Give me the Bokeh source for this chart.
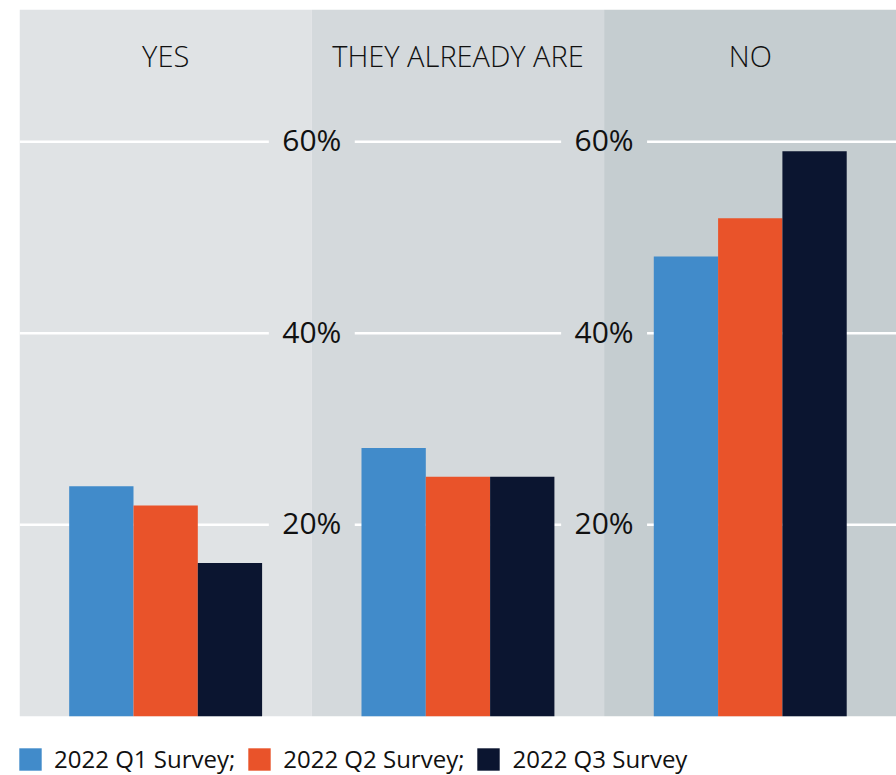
from bokeh.plotting import figure
from bokeh.models import Range1d, Legend, LegendItem
from bokeh.core.properties import value
from bokeh.embed import file_html
from bokeh.resources import INLINE

categories = ["YES", "THEY ALREADY ARE", "NO"]
series = ["2022 Q1 Survey;", "2022 Q2 Survey;", "2022 Q3 Survey"]
q1 = [24, 28, 48]
q2 = [22, 25, 52]
q3 = [16, 25, 59]
ticks = [20, 40, 60]
tick_labels = ["20%", "40%", "60%"]

colors = ["#418bca", "#e9532a", "#0b1530"]
panel_colors = ["#e0e3e5", "#d4d9dc", "#c5cdd0"]

PANEL_PX = 292.3
PX_PER_PCT = 9.575
W, H = 896, 775
LEFT, TOP = 19, 9
x_end = (W - LEFT) / PANEL_PX
y_end = 73.8
y_start = y_end - (H - TOP) / PX_PER_PCT

p = figure(width=W, height=H, x_range=Range1d(0, x_end), y_range=Range1d(y_start, y_end),
           x_axis_type=None, y_axis_type=None, toolbar_location=None,
           output_backend="svg", min_border_left=LEFT, min_border_right=0,
           min_border_top=TOP, min_border_bottom=0)
p.outline_line_color = None
p.background_fill_color = "white"
p.border_fill_color = "white"

n = len(categories)
idx = list(range(n))
p.quad(left=idx, right=[i + 1 for i in idx], bottom=0, top=y_end,
       fill_color=panel_colors, line_color=None)

# gridlines with gaps for the labels at panel boundaries
g = 0.147
xs0, xs1, ys = [], [], []
for t in ticks:
    for i in idx:
        xs0.append(i + (g if i > 0 else 0))
        xs1.append(i + 1 - (g if i < n - 1 else 0))
        ys.append(t)
p.segment(x0=xs0, y0=ys, x1=xs1, y1=ys, line_color="white", line_width=2.5)

lx, ly, lt = [], [], []
for b in range(1, n):
    for t, lab in zip(ticks, tick_labels):
        lx.append(b)
        ly.append(t)
        lt.append(lab)
p.text(x=lx, y=ly, text=lt, text_align="center", text_baseline="alphabetic",
       y_offset=-2, text_font=value("Open Sans"), text_font_size="30px",
       text_color="#111111")

p.text(x=[i + 0.5 for i in idx], y=[y_end] * n, text=categories,
       text_align="center", text_baseline="alphabetic", y_offset=46,
       text_font=value("Open Sans Light"), text_font_size="29px",
       text_color="#111111")

bw = 0.22
renderers = []
for j, (vals, c) in enumerate(zip([q1, q2, q3], colors)):
    r = p.vbar(x=[i + 0.5 + (j - 1) * bw for i in idx], top=vals, bottom=0,
               width=bw, fill_color=c, line_color=None)
    renderers.append(r)

legend = Legend(items=[LegendItem(label=s, renderers=[r]) for s, r in zip(series, renderers)],
                orientation="horizontal", location=(-3, 0),
                glyph_width=28, glyph_height=28, label_standoff=10, spacing=10,
                padding=0, margin=0, border_line_color=None,
                background_fill_alpha=0, label_text_font="Open Sans",
                label_text_font_size="24px", label_text_color="#111111")
p.add_layout(legend, "center")

open("out.html", "w").write(file_html(p, INLINE))
